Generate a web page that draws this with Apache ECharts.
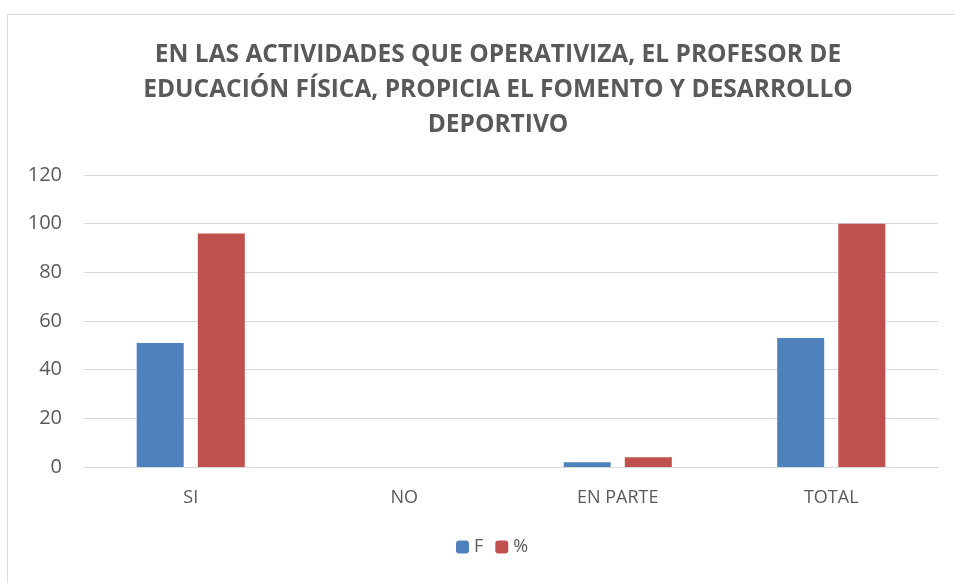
<!DOCTYPE html>
<html>
<head>
<meta charset="utf-8">
<script src="https://cdn.jsdelivr.net/npm/echarts@6/dist/echarts.min.js"></script>
<style>
  html, body { margin: 0; padding: 0; background: #fff; }
  #frame { position: absolute; left: 7px; top: 14px; width: 960px; height: 580px; border: 1px solid #d9d9d9; box-sizing: border-box; }
  #main { position: absolute; left: 0; top: 0; width: 955px; height: 583px; }
</style>
</head>
<body>
<div id="frame"></div>
<div id="main"></div>
<script>
let categories = ["SI", "NO", "EN PARTE", "TOTAL"];
let valuesF = [51, 0, 2, 53];
let valuesPct = [96, 0, 4, 100];
let yTicks = [0, 20, 40, 60, 80, 100, 120];

let titleText = "EN LAS ACTIVIDADES QUE OPERATIVIZA, EL PROFESOR DE\nEDUCACIÓN FÍSICA, PROPICIA EL FOMENTO Y DESARROLLO\nDEPORTIVO";

let myChart = echarts.init(document.getElementById("main"));

let option = {
    animation: false,
    title: {
        text: titleText,
        left: 493,
        textAlign: "center",
        top: 33,
        textStyle: {
            fontFamily: "Open Sans",
            fontWeight: "bold",
            fontSize: 24.5,
            lineHeight: 35,
            color: "#595959"
        }
    },
    legend: {
        bottom: 22,
        left: 451,
        itemWidth: 13,
        itemHeight: 13,
        itemGap: 12,
        textStyle: { fontFamily: "Open Sans", fontSize: 18, color: "#595959" },
        data: ["F", "%"]
    },
    grid: {
        left: 84,
        right: 17,
        top: 175,
        bottom: 116
    },
    xAxis: {
        type: "category",
        data: categories,
        axisLine: { lineStyle: { color: "#d9d9d9", width: 1 } },
        axisTick: { show: false },
        axisLabel: { fontFamily: "Open Sans", fontSize: 18, color: "#595959", margin: 22 }
    },
    yAxis: {
        type: "value",
        min: yTicks[0],
        max: yTicks[yTicks.length - 1],
        interval: 20,
        axisLine: { show: false },
        axisTick: { show: false },
        splitLine: { lineStyle: { color: "#d9d9d9" } },
        axisLabel: { fontFamily: "Open Sans", fontSize: 20, color: "#595959", margin: 22 }
    },
    series: [
        {
            name: "F",
            type: "bar",
            data: valuesF,
            barWidth: 47,
            barGap: "30%",
            itemStyle: { color: "#4f81bd" }
        },
        {
            name: "%",
            type: "bar",
            data: valuesPct,
            barWidth: 47,
            itemStyle: { color: "#c0504d" }
        }
    ]
};

myChart.setOption(option);
</script>
</body>
</html>
